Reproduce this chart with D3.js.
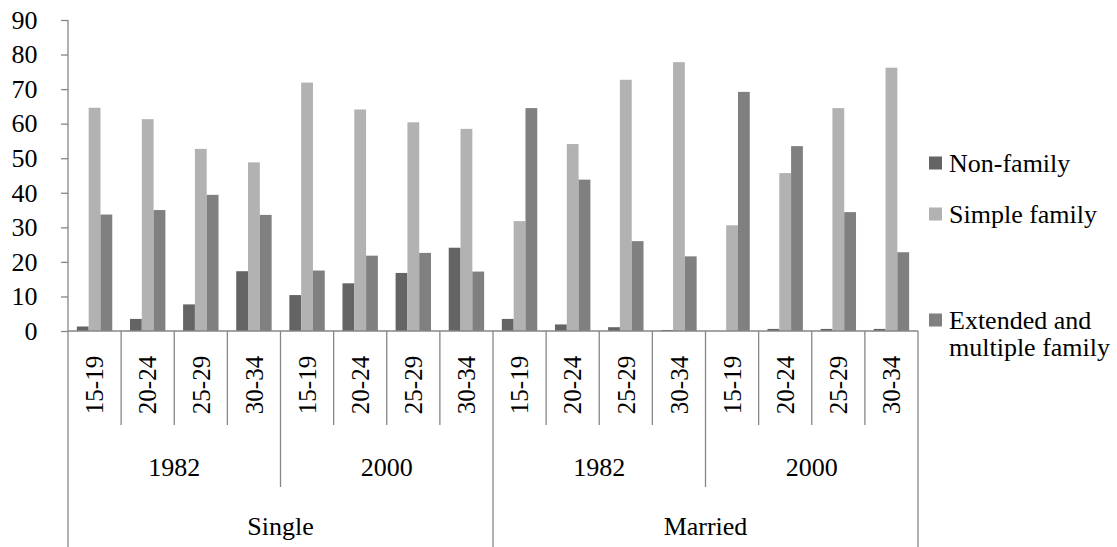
<!DOCTYPE html>
<html>
<head>
<meta charset="utf-8">
<script src="https://cdn.jsdelivr.net/npm/d3@7"></script>
<style>
  html, body { margin: 0; padding: 0; background: #fff; }
  svg { display: block; }
</style>
</head>
<body>
<svg id="chart" width="1117" height="547"></svg>
<script>
// ---- data ----
const statuses = ["Single", "Married"];
const years = ["1982", "2000"];
const ages = ["15-19", "20-24", "25-29", "30-34"];
const seriesNames = ["Non-family", "Simple family", "Extended and multiple family"];
// values ordered: Single 1982 (4 ages), Single 2000, Married 1982, Married 2000
const nonFamily = [1.3, 3.5, 7.7, 17.3, 10.4, 13.8, 16.8, 24.1, 3.5, 1.9, 1.1, 0.3, 0, 0.6, 0.6, 0.6];
const simpleFamily = [64.6, 61.3, 52.7, 48.8, 71.9, 64.1, 60.4, 58.5, 31.8, 54.1, 72.7, 77.8, 30.6, 45.7, 64.5, 76.2];
const extendedFamily = [33.7, 35.0, 39.4, 33.6, 17.5, 21.8, 22.6, 17.2, 64.5, 43.8, 26.0, 21.6, 69.2, 53.5, 34.4, 22.8];
const yTicks = [0, 10, 20, 30, 40, 50, 60, 70, 80, 90];

const seriesValues = [nonFamily, simpleFamily, extendedFamily];
const colors = ["#646464", "#b2b2b2", "#808080"];

// categories built from the levels
const categories = [];
statuses.forEach(s => years.forEach(y => ages.forEach(a => categories.push({ s, y, a }))));
categories.forEach((c, i) => c.i = i);

const svg = d3.select("#chart");
const plotLeft = 68, plotRight = 918, plotTop = 20, plotBottom = 331;
const axisColor = "#868686";
const fs = 26;
const fsRot = 25;
const ff = "Liberation Serif";

const x0 = d3.scaleBand().domain(d3.range(categories.length)).range([plotLeft, plotRight])
  .paddingInner(1 / 3).paddingOuter(1 / 6);
const x1 = d3.scaleBand().domain(d3.range(seriesNames.length)).range([0, x0.bandwidth()]);
const y = d3.scaleLinear().domain([0, 90]).range([plotBottom, plotTop]);
const step = x0.step();
const catLeft = i => plotLeft + i * step;

// bars
seriesValues.forEach((vals, si) => {
  svg.append("g").selectAll("rect").data(vals).join("rect")
    .attr("x", (d, i) => x0(i) + x1(si))
    .attr("y", d => y(d))
    .attr("width", x1.bandwidth())
    .attr("height", d => y(0) - y(d))
    .attr("fill", colors[si]);
});

// y axis
const yAxis = svg.append("g").attr("transform", `translate(${plotLeft},0)`)
  .call(d3.axisLeft(y).tickValues(yTicks).tickSize(7).tickPadding(23.5).tickFormat(d3.format("d")));
yAxis.attr("font-family", ff).attr("font-size", fs);
yAxis.select(".domain").remove();
yAxis.selectAll(".tick line").attr("stroke", axisColor).attr("stroke-width", 1.3);
yAxis.selectAll(".tick text").attr("fill", "#000").attr("font-family", ff);

svg.append("line").attr("x1", plotLeft).attr("x2", plotLeft).attr("y1", plotTop).attr("y2", 547)
  .attr("stroke", axisColor).attr("stroke-width", 1.3);
svg.append("line").attr("x1", plotLeft).attr("x2", plotRight).attr("y1", plotBottom).attr("y2", plotBottom)
  .attr("stroke", axisColor).attr("stroke-width", 1.3);

// separators
const g = svg.append("g");
for (let i = 1; i <= categories.length; i++) {
  const xp = catLeft(i);
  let y2 = 425;
  if (i % 4 === 0) y2 = 487;
  if (i % 8 === 0) y2 = 547;
  g.append("line").attr("x1", xp).attr("x2", xp).attr("y1", plotBottom).attr("y2", y2)
    .attr("stroke", axisColor).attr("stroke-width", 1.3);
}

const labels = svg.append("g");

// age labels
labels.append("g").selectAll("text").data(categories).join("text")
  .attr("transform", d => `translate(${x0(d.i) + x0.bandwidth() / 2},385) rotate(-90)`)
  .attr("text-anchor", "middle").attr("dy", "0.35em")
  .attr("font-family", ff).attr("font-size", fsRot).attr("fill", "#000")
  .text(d => d.a);

// year labels
const yearGroups = [];
statuses.forEach((s, si) => years.forEach((yy, yi) => yearGroups.push({ label: yy, idx: si * 2 + yi })));
labels.append("g").selectAll("text").data(yearGroups).join("text")
  .attr("x", d => catLeft(d.idx * 4) + step * 2)
  .attr("y", 476).attr("text-anchor", "middle")
  .attr("font-family", ff).attr("font-size", fs).attr("fill", "#000")
  .text(d => d.label);

// status labels
labels.append("g").selectAll("text").data(statuses).join("text")
  .attr("x", (d, i) => catLeft(i * 8) + step * 4)
  .attr("y", 535).attr("text-anchor", "middle")
  .attr("font-family", ff).attr("font-size", fs).attr("fill", "#000")
  .text(d => d);

// legend
const legendY = [163, 214, 320];
const lg = labels.append("g");
seriesNames.forEach((name, i) => {
  lg.append("rect").attr("x", 929).attr("y", legendY[i] - 6.5).attr("width", 13).attr("height", 13).attr("fill", colors[i]);
  const t = lg.append("text").attr("x", 949).attr("y", legendY[i]).attr("dy", "0.35em")
    .attr("font-family", ff).attr("font-size", fs).attr("fill", "#000");
  if (i === 2) {
    t.append("tspan").attr("x", 949).text("Extended and");
    t.append("tspan").attr("x", 949).attr("dy", "1.05em").text("multiple family");
  } else {
    t.text(name);
  }
});
</script>
</body>
</html>
